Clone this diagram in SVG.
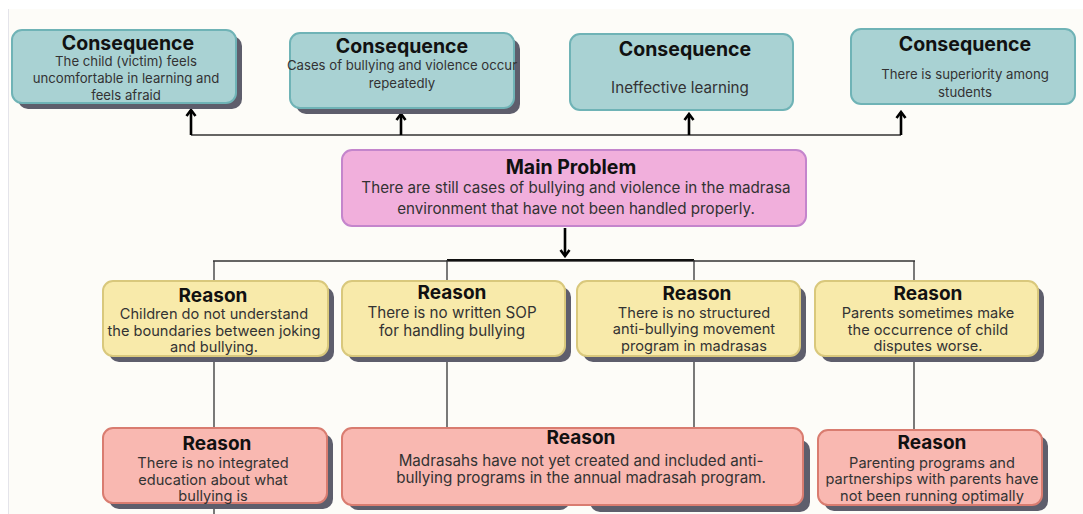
<svg xmlns="http://www.w3.org/2000/svg" width="1083" height="514" viewBox="0 0 1083 514">
<defs>
<marker id="ah" viewBox="0 0 12 12" refX="10" refY="6" markerWidth="12" markerHeight="12" markerUnits="userSpaceOnUse" orient="auto">
<path d="M4,1.5 L10,6 L4,10.5" fill="none" stroke="#000" stroke-width="2.6" stroke-linejoin="miter"/>
</marker>
<style>
.sh{fill:#5e5e6c}
.con{fill:#a9d2d3;stroke:#6fb3b6;stroke-width:2}
.mp{fill:#f1afdc;stroke:#c485cc;stroke-width:2}
.ry{fill:#f8eaaa;stroke:#d9c87c;stroke-width:2}
.rr{fill:#f9b8b1;stroke:#d97c70;stroke-width:2}
text{font-family:Inter,"Noto Sans","Liberation Sans",sans-serif;text-anchor:middle;fill:#333}
.t{font-weight:bold;font-size:19.5px;fill:#111}
.r{font-weight:bold;font-size:19px;fill:#111}
.b{font-size:15.2px}
.c{font-size:14.6px}
.s{font-size:13.2px}
.ln{stroke:#333;stroke-width:1.3;fill:none}
.ar{stroke:#000;stroke-width:2.6;fill:none}
</style>
</defs>
<rect x="0" y="0" width="1083" height="514" fill="#ffffff"/>
<rect x="8" y="9" width="1075" height="505" fill="#fdfcf8"/>
<line x1="8.5" y1="9" x2="8.5" y2="514" stroke="#e4e4ea" stroke-width="1"/>

<g id="connectors">
<line class="ln" x1="191" y1="135" x2="901" y2="135"/>
<line class="ar" x1="191" y1="135" x2="191" y2="110" marker-end="url(#ah)"/>
<line class="ar" x1="401" y1="135" x2="401" y2="114" marker-end="url(#ah)"/>
<line class="ar" x1="689" y1="135" x2="689" y2="114" marker-end="url(#ah)"/>
<line class="ar" x1="901" y1="135" x2="901" y2="112" marker-end="url(#ah)"/>
<line class="ar" x1="565" y1="228" x2="565" y2="256" marker-end="url(#ah)"/>
<line class="ln" x1="213" y1="261" x2="915" y2="261"/>
<line x1="447" y1="260" x2="694" y2="260" stroke="#111" stroke-width="2"/>
<line class="ln" x1="214" y1="261" x2="214" y2="514"/>
<line class="ln" x1="447" y1="260" x2="447" y2="430"/>
<line class="ln" x1="694" y1="260" x2="694" y2="430"/>
<line class="ln" x1="914" y1="261" x2="914" y2="432"/>
</g>

<g id="consequence1">
<rect class="sh" x="18" y="36" width="224" height="73" rx="10"/>
<rect class="con" x="12" y="30" width="224" height="73" rx="10"/>
<text class="t" x="128" y="50">Consequence</text>
<text class="s" x="126" y="66">The child (victim) feels</text>
<text class="s" x="126" y="83">uncomfortable in learning and</text>
<text class="s" x="126" y="100">feels afraid</text>
</g>
<g id="consequence2">
<rect class="sh" x="296" y="39" width="224" height="75" rx="10"/>
<rect class="con" x="290" y="33" width="224" height="75" rx="10"/>
<text class="t" x="402" y="53">Consequence</text>
<text class="s" x="402" y="70">Cases of bullying and violence occur</text>
<text class="s" x="402" y="88">repeatedly</text>
</g>
<g id="consequence3">
<rect class="con" x="570" y="34" width="223" height="76" rx="10"/>
<text class="t" x="685" y="56">Consequence</text>
<text class="b" x="680" y="93">Ineffective learning</text>
</g>
<g id="consequence4">
<rect class="con" x="851" y="29" width="224" height="75" rx="10"/>
<text class="t" x="965" y="51">Consequence</text>
<text class="s" x="965" y="79">There is superiority among</text>
<text class="s" x="965" y="97">students</text>
</g>

<g id="main-problem">
<rect class="mp" x="342" y="150" width="464" height="76" rx="10"/>
<text class="t" x="571" y="174">Main Problem</text>
<text class="b" x="576" y="193">There are still cases of bullying and violence in the madrasa</text>
<text class="b" x="576" y="214">environment that have not been handled properly.</text>
</g>

<g id="reason1">
<rect class="sh" x="109" y="287" width="225" height="75" rx="10"/>
<rect class="ry" x="103" y="281" width="225" height="75" rx="10"/>
<text class="r" x="213" y="302">Reason</text>
<text class="c" x="214" y="319">Children do not understand</text>
<text class="c" x="214" y="335.5">the boundaries between joking</text>
<text class="c" x="214" y="352">and bullying.</text>
</g>
<g id="reason2">
<rect class="sh" x="348" y="287" width="223" height="75" rx="10"/>
<rect class="ry" x="342" y="281" width="223" height="75" rx="10"/>
<text class="r" x="452" y="299">Reason</text>
<text class="b" x="452" y="318">There is no written SOP</text>
<text class="b" x="452" y="336">for handling bullying</text>
</g>
<g id="reason3">
<rect class="sh" x="583" y="287" width="223" height="75" rx="10"/>
<rect class="ry" x="577" y="281" width="223" height="75" rx="10"/>
<text class="r" x="697" y="300">Reason</text>
<text class="c" x="694" y="317.5">There is no structured</text>
<text class="c" x="694" y="334">anti-bullying movement</text>
<text class="c" x="694" y="350.5">program in madrasas</text>
</g>
<g id="reason4">
<rect class="sh" x="821" y="287" width="223" height="75" rx="10"/>
<rect class="ry" x="815" y="281" width="223" height="75" rx="10"/>
<text class="r" x="928" y="300">Reason</text>
<text class="c" x="928" y="318">Parents sometimes make</text>
<text class="c" x="928" y="334.5">the occurrence of child</text>
<text class="c" x="928" y="351">disputes worse.</text>
</g>

<g id="reason5">
<rect class="sh" x="109" y="434" width="224" height="75" rx="10"/>
<rect class="rr" x="103" y="428" width="224" height="75" rx="10"/>
<text class="r" x="217" y="450">Reason</text>
<text class="c" x="213" y="468">There is no integrated</text>
<text class="c" x="213" y="484.5">education about what</text>
<text class="c" x="213" y="501">bullying is</text>
</g>
<g id="reason6">
<rect class="sh" x="590" y="440" width="220" height="72" rx="10"/>
<rect class="sh" x="348" y="434" width="222" height="76" rx="10"/>
<rect class="rr" x="342" y="428" width="461" height="77" rx="10"/>
<text class="r" x="581" y="444">Reason</text>
<text class="b" x="581" y="466">Madrasahs have not yet created and included anti-</text>
<text class="b" x="581" y="483">bullying programs in the annual madrasah program.</text>
</g>
<g id="reason7">
<rect class="sh" x="824" y="436" width="224" height="75" rx="10"/>
<rect class="rr" x="818" y="430" width="224" height="75" rx="10"/>
<text class="r" x="932" y="449">Reason</text>
<text class="c" x="932" y="467.5">Parenting programs and</text>
<text class="c" x="932" y="484">partnerships with parents have</text>
<text class="c" x="932" y="500.5">not been running optimally</text>
</g>
</svg>
